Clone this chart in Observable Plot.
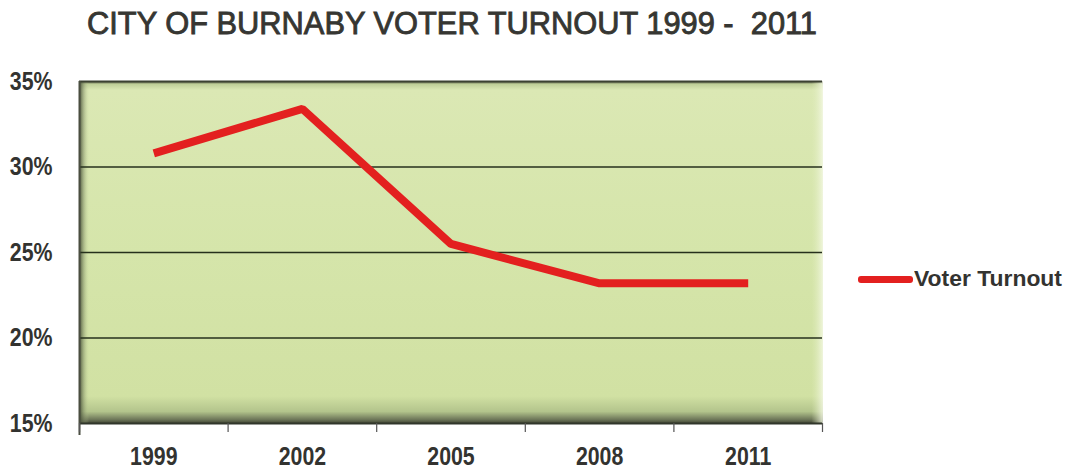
<!DOCTYPE html>
<html>
<head>
<meta charset="utf-8">
<script src="https://cdn.jsdelivr.net/npm/d3@7"></script>
<script src="https://cdn.jsdelivr.net/npm/@observablehq/plot@0.6"></script>
<style>
  html, body { margin: 0; padding: 0; background: #ffffff; }
  #wrap { position: relative; width: 1070px; height: 471px; overflow: hidden; background: #fff; }
  #title { position: absolute; left: 87px; top: 5px; font-family: "Liberation Sans", Arial, sans-serif; font-size: 32px; color: #363632; white-space: pre; transform-origin: 0 0; -webkit-text-stroke: 0.9px #363632; }
  #chart { position: absolute; left: 0; top: 68px; }
  #legend { position: absolute; left: 858px; top: 266px; display: flex; align-items: center; white-space: nowrap; }
  #legend .sw { width: 55px; height: 7px; background: #e3201f; border-radius: 3px; flex: none; }
  #legend .lb { font-family: "Liberation Sans", Arial, sans-serif; font-weight: bold; font-size: 22px; color: #333330; margin-left: 1px; transform-origin: 0 50%; display: inline-block; }
</style>
</head>
<body>
<div id="wrap">
  <div id="title">CITY OF BURNABY VOTER TURNOUT 1999 -  2011</div>
  <div id="chart"></div>
  <div id="legend"><div class="sw"></div><div class="lb">Voter Turnout</div></div>
</div>
<script>
const years = [1999, 2002, 2005, 2008, 2011];
const turnout = [30.8, 33.4, 25.5, 23.2, 23.2];
const yTicks = [15, 20, 25, 30, 35];
const gridValues = [20, 25, 30];
const xBoundaries = [1997.5, 2000.5, 2003.5, 2006.5, 2009.5, 2012.5];
const seriesName = "Voter Turnout";

const data = years.map((year, i) => ({year, turnout: turnout[i]}));

const chart = Plot.plot({
  width: 1070,
  height: 403,
  marginTop: 13,
  marginBottom: 48,
  marginLeft: 79,
  marginRight: 248,
  style: "font-family: 'Liberation Sans', Arial, sans-serif; font-size: 26px; font-weight: bold; color: #333330; background: transparent; overflow: visible;",
  x: {domain: [1997.5, 2012.5], label: null},
  y: {domain: [15, 35], label: null},
  marks: [
    Plot.frame({fill: "url(#bgV)", stroke: null}),
    Plot.frame({fill: "url(#bgH)", stroke: null}),
    Plot.ruleY(gridValues, {stroke: "#26301c", strokeWidth: 1.6}),
    Plot.ruleY([35], {stroke: "#3c4232", strokeWidth: 2}),
    Plot.ruleY([15], {stroke: "#30362a", strokeWidth: 2}),
    Plot.ruleX([1997.5], {y1: 35, y2: 15, stroke: "#4a4e40", strokeWidth: 2, insetBottom: -12}),
    Plot.axisX(xBoundaries, {tickSize: 9, tickFormat: () => "", stroke: "#555", strokeWidth: 1.2}),
    Plot.axisX(years, {tickSize: 0, tickPadding: 23, tickFormat: d => String(d), fill: "#333330"}),
    Plot.axisY(yTicks, {tickSize: 0, tickPadding: 27, tickFormat: d => d + "%", fill: "#333330"}),
    Plot.line(data, {x: "year", y: "turnout", stroke: "#e3201f", strokeWidth: 8, strokeLinejoin: "miter", strokeLinecap: "butt"})
  ]
});

const svg = d3.select(chart);
const defs = svg.insert("defs", ":first-child");
const gv = defs.append("linearGradient").attr("id", "bgV").attr("x1", 0).attr("y1", 0).attr("x2", 0).attr("y2", 1);
[["0%", "#5c6248"], ["0.8%", "#bfcf98"], ["2.5%", "#dbe8b4"], ["50%", "#d5e5aa"], ["92%", "#d1e1a3"], ["96.5%", "#b3c48c"], ["98.8%", "#6f785a"], ["100%", "#3e4332"]]
  .forEach(([o, c]) => gv.append("stop").attr("offset", o).attr("stop-color", c));
const gh = defs.append("linearGradient").attr("id", "bgH").attr("x1", 0).attr("y1", 0).attr("x2", 1).attr("y2", 0);
[["0%", "#3e4630", 0.9], ["0.5%", "#6b7656", 0.5], ["1.3%", "#c5d59c", 0], ["98.5%", "#e0ecbe", 0], ["100%", "#f4f8e4", 0.8]]
  .forEach(([o, c, a]) => gh.append("stop").attr("offset", o).attr("stop-color", c).attr("stop-opacity", a));

// condense axis text horizontally (narrow typeface look), scaling about each text's own anchor
svg.selectAll("text").each(function() {
  const ax = parseFloat(this.getAttribute("x")) || 0;
  const tr = this.getAttribute("transform") || "";
  this.setAttribute("transform", `${tr} translate(${ax},0) scale(0.82,1) translate(${-ax},0)`);
});

document.getElementById("chart").appendChild(chart);

// fit title and legend label to the reference widths
const title = document.getElementById("title");
title.style.transform = `scaleX(${730 / title.getBoundingClientRect().width})`;
const lb = document.querySelector("#legend .lb");
lb.style.transform = `scaleX(${148 / lb.getBoundingClientRect().width})`;
</script>
</body>
</html>
